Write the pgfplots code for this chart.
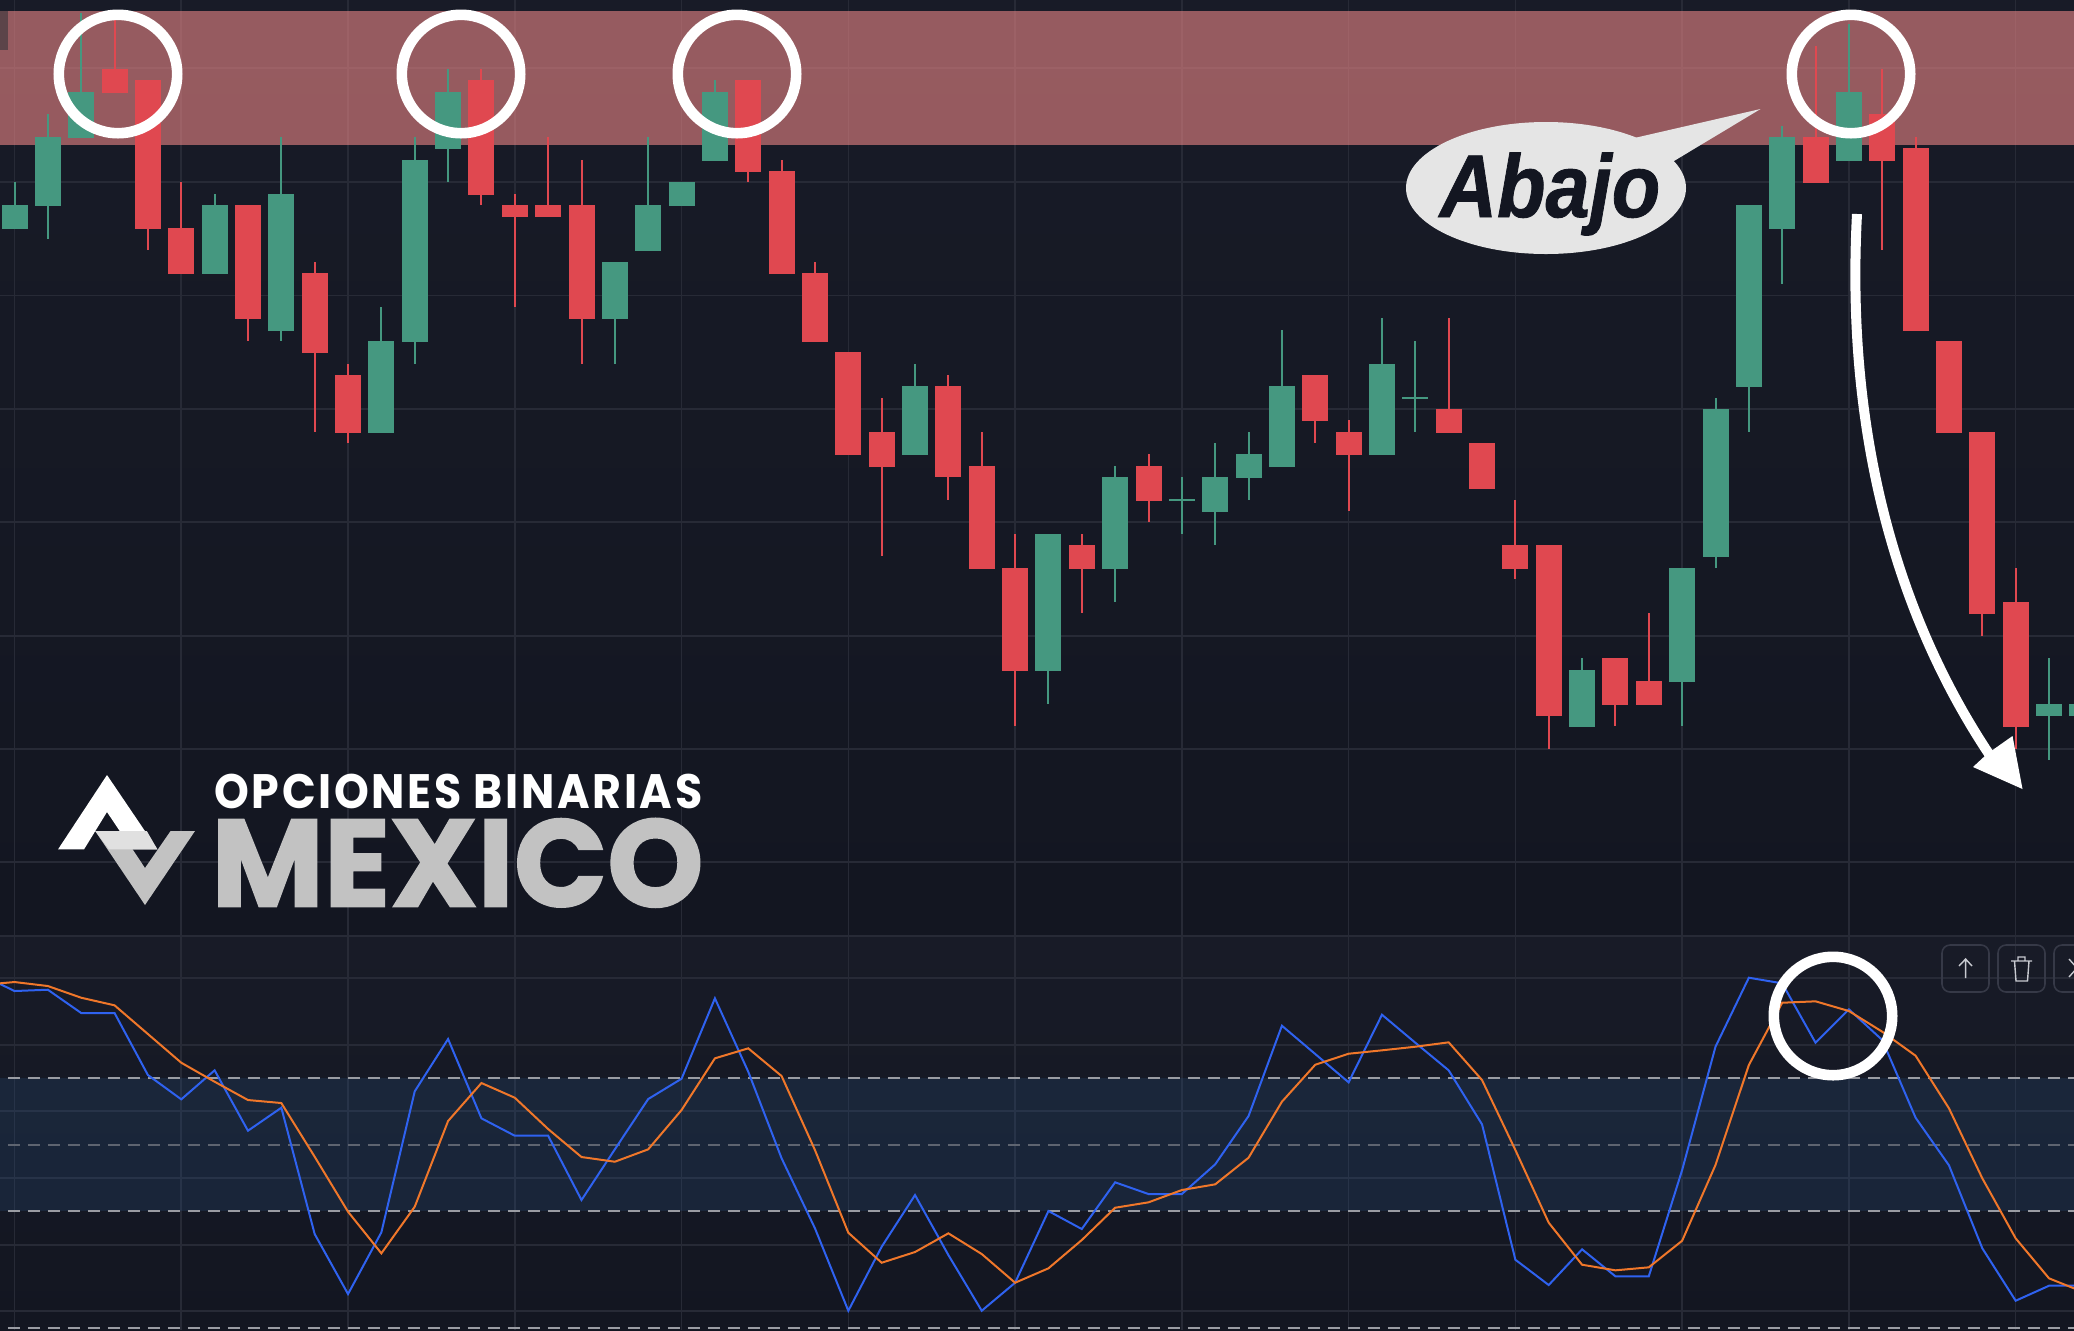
\documentclass[border=0pt]{standalone}
\usepackage{fontspec}
\usepackage{pgfplots}
\usepackage{pgfplotstable}
\pgfplotsset{compat=1.18}
\setmainfont{Liberation Sans}
\newfontfamily\pop{Poppins}
\definecolor{bgtop}{HTML}{181B27}
\definecolor{bgbot}{HTML}{131621}
\definecolor{gridc}{HTML}{272A36}
\definecolor{cgreen}{HTML}{459880}
\definecolor{cred}{HTML}{E04850}
\definecolor{cblue}{HTML}{2F62F0}
\definecolor{corange}{HTML}{F0772A}
\definecolor{logog}{HTML}{C2C2C2}
\definecolor{dashc}{HTML}{9A9CA3}
\definecolor{dashm}{HTML}{5E6470}
\pgfplotstableread{
i top bot hi lo
0 205 229 182 229
1 137 206 114 239
2 92 138 13 138
6 205 274 194 274
8 194 331 137 341
11 341 433 307 433
12 160 342 137 364
13 92 149 69 182
18 262 319 262 364
19 205 251 137 251
20 182 206 182 206
21 92 161 80 161
27 386 455 364 455
31 534 671 534 704
33 477 569 466 602
35 499 501 477 534
36 477 512 443 545
37 454 478 432 500
38 386 467 330 467
41 364 455 318 455
42 397 399 341 432
47 670 727 658 727
50 568 682 568 726
51 409 557 398 568
52 205 387 205 432
53 137 229 126 284
55 92 161 24 161
61 704 716 658 760
62 704 716 704 716
}\greentab
\pgfplotstableread{
i top bot hi lo
3 69 93 19 93
4 80 229 80 250
5 228 274 182 274
7 205 319 205 341
9 273 353 262 432
10 375 433 364 443
14 80 195 69 205
15 205 217 194 307
16 205 217 137 217
17 205 319 160 364
22 80 172 80 182
23 171 274 160 274
24 273 342 262 342
25 352 455 352 455
26 432 467 398 556
28 386 477 375 500
29 466 569 432 569
30 568 671 534 726
32 545 569 534 613
34 466 501 454 522
39 375 421 375 443
40 432 455 420 511
43 409 433 318 433
44 443 489 443 489
45 545 569 500 579
46 545 716 545 749
48 658 705 658 726
49 681 705 613 705
54 137 183 46 183
56 114 161 69 250
57 148 331 137 331
58 341 433 341 433
59 432 614 432 636
60 602 727 568 749
}\redtab
\begin{document}
\begin{tikzpicture}
\path[use as bounding box] (0,0) rectangle (1037pt,-665pt);
\begin{scope}[x=0.5pt,y=-0.5pt]
\shade[top color=bgtop,bottom color=bgbot] (0,0) rectangle (2074,936);
\shade[top color=bgtop,bottom color=bgbot] (0,936) rectangle (2074,1330);
\end{scope}
\begin{axis}[at={(0,0)},anchor=north west,width=1037pt,height=665pt,scale only axis,
  xmin=-0.4348,xmax=61.75,ymin=0,ymax=1330,y dir=reverse,
  xtick={0,5,...,60},
  ytick={68,182,295.5,409,522,636,749,862,935.7,977.7,1045,1111,1178,1245,1310.7},
  xticklabels={},yticklabels={},tick style={draw=none},major tick length=0pt,
  grid=major,grid style={color=gridc,line width=0.8pt},
  axis line style={draw=none},clip=true]
% resistance band and oscillator band
\addplot[draw=none,fill={rgb,255:red,235;green,134;blue,134},fill opacity=0.6] coordinates {(-1,11)(63,11)(63,145)(-1,145)} --cycle;
\addplot[draw=none,fill={rgb,255:red,42;green,90;blue,145},fill opacity=0.2] coordinates {(-1,1077.7)(63,1077.7)(63,1211)(-1,1211)} --cycle;
\addplot[draw=none,fill={rgb,255:red,92;green,68;blue,73}] coordinates {(-1,11)(-0.195,11)(-0.195,50)(-1,50)} --cycle;
% levels
\addplot[color=dashc,line width=1pt,dash pattern=on 6pt off 4pt] coordinates {(-0.2,1077.7)(62,1077.7)};
\addplot[color=dashm,line width=1pt,dash pattern=on 6pt off 4pt] coordinates {(-0.2,1145)(62,1145)};
\addplot[color=dashc,line width=1pt,dash pattern=on 6pt off 4pt] coordinates {(-0.2,1211)(62,1211)};
\addplot[color=dashc,line width=1pt,dash pattern=on 6pt off 4pt] coordinates {(-0.2,1327.7)(62,1327.7)};
% wicks
\addplot[draw=none,mark=none,error bars/.cd,y dir=plus,y explicit,error mark=none,error bar style={color=cgreen,line width=1pt}]
  table[x=i,y=hi,y error expr=\thisrow{lo}-\thisrow{hi}]{\greentab};
\addplot[draw=none,mark=none,error bars/.cd,y dir=plus,y explicit,error mark=none,error bar style={color=cred,line width=1pt}]
  table[x=i,y=hi,y error expr=\thisrow{lo}-\thisrow{hi}]{\redtab};
% bodies
\addplot[draw=none,mark=none,error bars/.cd,y dir=plus,y explicit,error mark=none,error bar style={color=cgreen,line width=13pt,line cap=butt}]
  table[x=i,y=top,y error expr=\thisrow{bot}-\thisrow{top}]{\greentab};
\addplot[draw=none,mark=none,error bars/.cd,y dir=plus,y explicit,error mark=none,error bar style={color=cred,line width=13pt,line cap=butt}]
  table[x=i,y=top,y error expr=\thisrow{bot}-\thisrow{top}]{\redtab};
% oscillator
\addplot[color=cblue,line width=1pt,line join=miter] coordinates {
(-1,974.7)(0,991)(1,989.7)(2,1013)(3,1013)(4,1075)(5,1099.3)(6,1070.3)(7,1130.7)(8,1107.7)(9,1234)(10,1294)(11,1232.3)(12,1091.3)(13,1039)(14,1118.3)(15,1135.7)(16,1135.7)(17,1200)(18,1149.3)(19,1099)(20,1078.7)(21,998.3)(22,1071.7)(23,1158.3)(24,1228.3)(25,1310.7)(26,1246.7)(27,1195)(28,1255)(29,1310.7)(30,1282.7)(31,1211)(32,1229)(33,1182.3)(34,1194)(35,1194)(36,1164.3)(37,1116)(38,1025.7)(39,1054)(40,1082.3)(41,1014.7)(42,1042.7)(43,1070.3)(44,1124.3)(45,1259.7)(46,1285)(47,1249.3)(48,1276.3)(49,1276.3)(50,1170)(51,1046.7)(52,977.7)(53,983.3)(54,1042.7)(55,1009.3)(56,1040)(57,1117.7)(58,1165.3)(59,1248.3)(60,1300.7)(61,1285.7)(62,1285.7)};
\addplot[color=corange,line width=1pt,line join=miter] coordinates {
(-1,985)(0,982)(1,986)(2,997.7)(3,1005.3)(4,1034)(5,1062.7)(6,1081.7)(7,1100)(8,1103)(9,1156.7)(10,1211.7)(11,1253.3)(12,1206.7)(13,1121)(14,1083)(15,1097.7)(16,1129)(17,1157)(18,1161.7)(19,1149.3)(20,1110)(21,1058.3)(22,1048.3)(23,1076)(24,1150)(25,1232.7)(26,1262.7)(27,1252)(28,1233.3)(29,1254)(30,1282.7)(31,1268.3)(32,1240)(33,1207.7)(34,1202.3)(35,1190)(36,1184.3)(37,1157.7)(38,1101.7)(39,1064.7)(40,1053.7)(41,1050.3)(42,1046.7)(43,1042.3)(44,1080)(45,1150)(46,1222.7)(47,1264.7)(48,1270.3)(49,1267.3)(50,1240.7)(51,1165)(52,1065)(53,1002.7)(54,1001.3)(55,1011)(56,1031.7)(57,1055.7)(58,1108.3)(59,1178.3)(60,1238.3)(61,1278.3)(62,1291.7)};
\end{axis}
\begin{scope}[x=0.5pt,y=-0.5pt]
\clip (0,0) rectangle (2074,1330);
% circles
\foreach \cx/\cy in {118/74,461/74,737/74,1851/74,1833/1016}
  \draw[white,line width=5.3pt] (\cx,\cy) circle (59.2);
% bubble
\fill[black!10] (1546,188) ellipse (140 and 66);
\fill[black!10] (1630,139) -- (1760.5,109) -- (1674,161) -- (1660,175) -- cycle;
\node[anchor=base,inner sep=0pt,text=bgbot] at (1550,217) {\scalebox{0.98}[1.1]{\addfontfeature{FakeBold=1}\fontsize{40.5pt}{40.5pt}\selectfont\bfseries\itshape Abajo}};
% arrow
\draw[white,line width=5pt] (1857,214) .. controls (1845,440) and (1900,620) .. (1989,754);
\fill[white] (2012.5,736) -- (2022.5,789) -- (1973,767) -- (1987,754) -- cycle;
% logo
\fill[white] (107,775) -- (157.4,849.4) -- (132,849.4) -- (107,812) -- (84,849.4) -- (58,849.4) -- cycle;
\fill[logog] (95.2,831) -- (120.4,831) -- (145,868) -- (170.6,831) -- (195,831) -- (145,905) -- cycle;
\fill[black!12] (95.2,831) -- (146.8,831) -- (157.4,849.4) -- (109,849.4) -- cycle;
\node[anchor=north west,inner sep=0pt,text=white] at (214,773.6) {\resizebox{244pt}{17.2pt}{\pop\bfseries\addfontfeature{LetterSpace=6}OPCIONES BINARIAS}};
\node[anchor=north west,inner sep=0pt,text=logog] at (211,818) {\resizebox{246pt}{44pt}{\pop\bfseries\addfontfeature{FakeBold=1.5}MEXICO}};
% buttons
\definecolor{btn}{HTML}{363947}
\definecolor{ico}{HTML}{C8CAD0}
\foreach \bx in {1942,1998,2054}
  \draw[btn,line width=0.8pt,rounded corners=4pt] (\bx,945) rectangle ++(47,47);
\draw[ico,line width=0.7pt] (1965.6,978) -- (1965.6,960) (1959,966) -- (1965.6,959) -- (1972,966);
\draw[ico,line width=0.7pt] (2011,961) -- (2032,961) (2014.5,961) -- (2016,981) -- (2027.5,981) -- (2029,961) (2018,961) -- (2018,957) -- (2025,957) -- (2025,961);
\draw[ico,line width=0.7pt] (2069,959) -- (2085,977) (2069,977) -- (2085,959);
\end{scope}
\end{tikzpicture}
\end{document}
